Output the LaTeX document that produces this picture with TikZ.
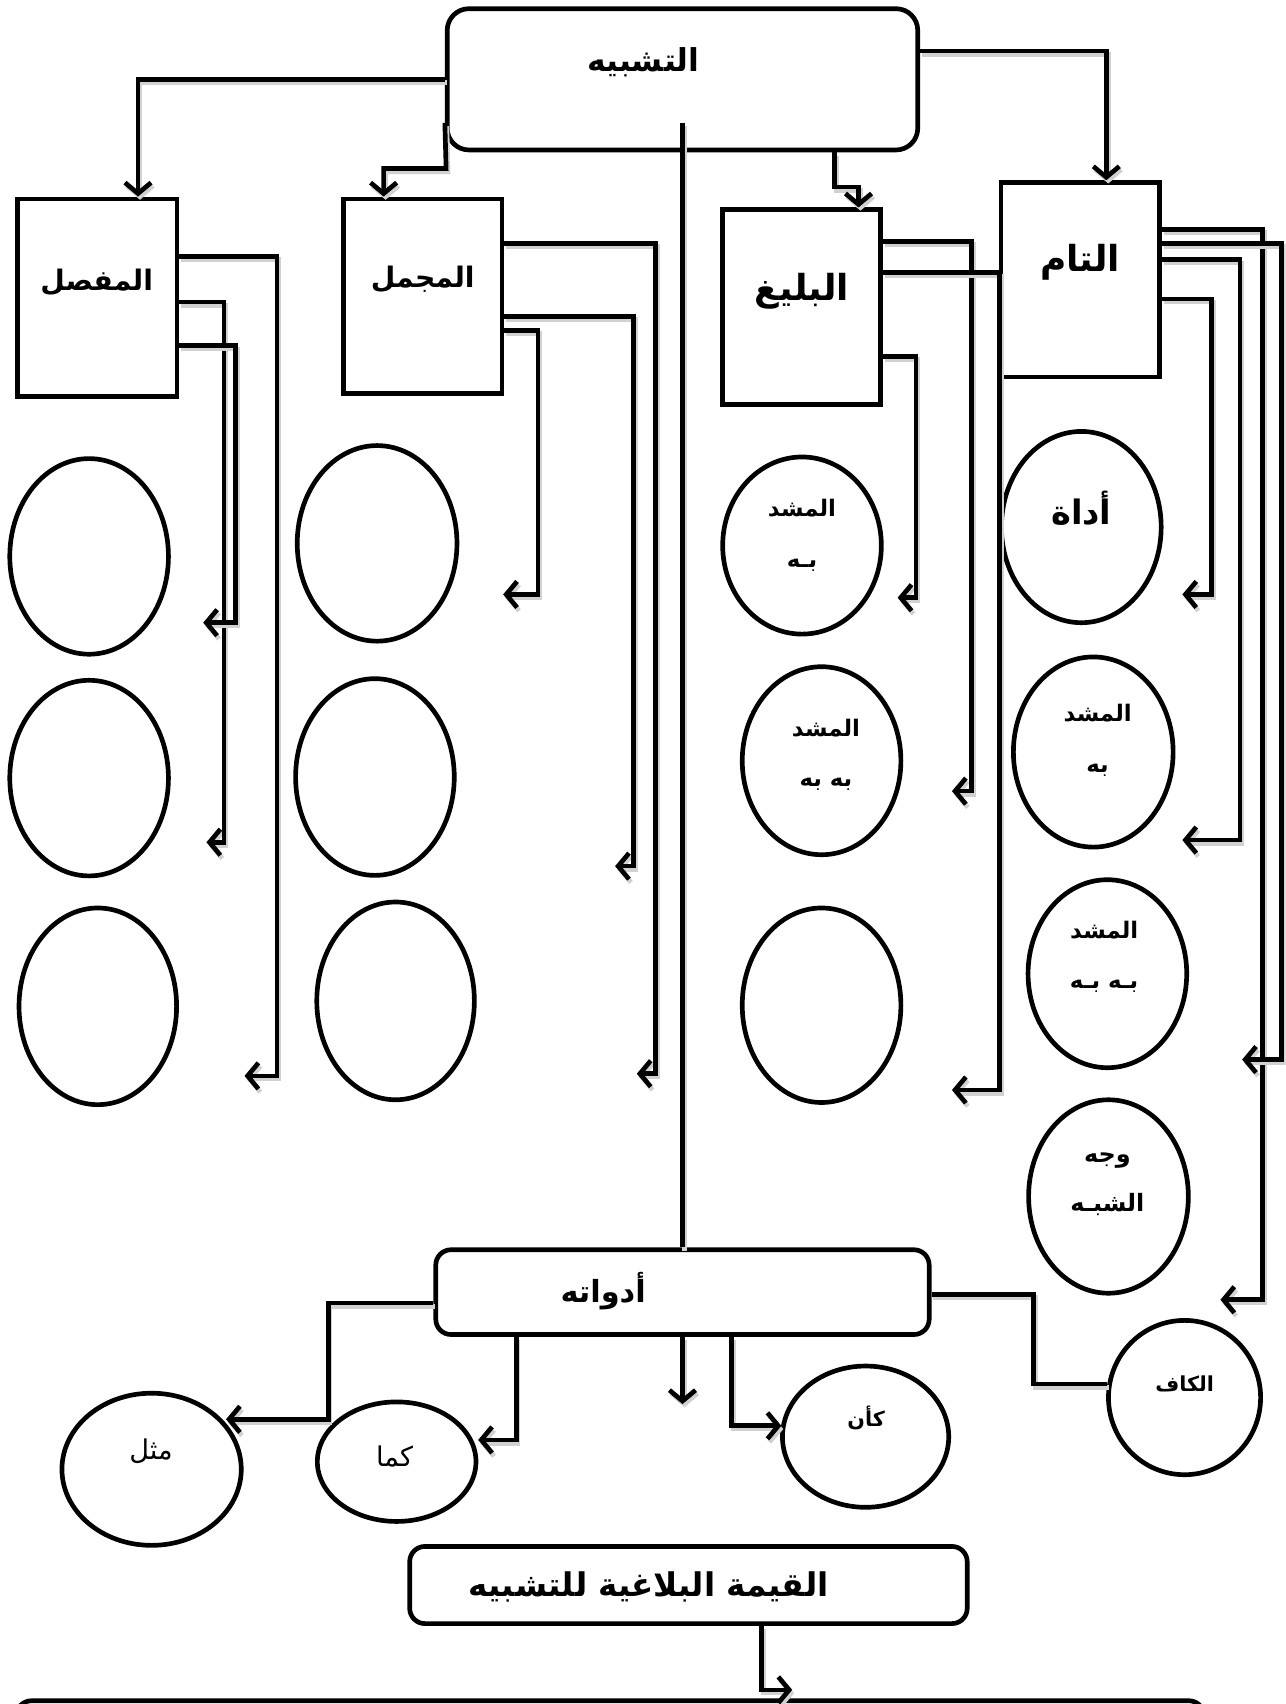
\documentclass[tikz,border=0pt]{standalone}
\usepackage{fontspec}
\usetikzlibrary{arrows.meta,shapes.geometric,calc}
\TeXXeTstate=1
\newfontfamily\arfont[Script=Arabic]{DejaVu Sans}
\begin{document}
\begin{tikzpicture}[x=1pt,y=-1pt,
  lw/.style={line width=4.3pt},
  shadowed/.style={preaction={draw=black!18,line width=4.3pt,transform canvas={shift={(1.8pt,-3pt)}}}},
  conn/.style={lw,shadowed,-{Straight Barb[length=10pt,width=24pt]}},
  link/.style={lw,shadowed},
  sbox/.style={draw,lw,inner sep=0pt},
  rbox/.style={draw,lw,inner sep=0pt,rounded corners=16pt},
  ell/.style={draw,lw,ellipse,inner sep=0pt},
  lab/.style 2 args={inner sep=0pt,align=center,font=\arfont\bfseries\fontsize{#1}{#2}\selectfont},
  labn/.style 2 args={inner sep=0pt,align=center,font=\arfont\mdseries\fontsize{#1}{#2}\selectfont}]
\useasboundingbox (0,0) rectangle (1183,1568);
\clip (0,0) rectangle (1183,1568);
\fill[white] (0,0) rectangle (1183,1568);

% ---------- main boxes
\node[rbox,rounded corners=20pt,minimum width=433pt,minimum height=130pt] (top) at (628,73) {};
\node[sbox,minimum width=147pt,minimum height=182pt] (muf) at (89.5,274) {};
\node[sbox,minimum width=146pt,minimum height=179pt] (muj) at (389,272.5) {};
\node[sbox,minimum width=145pt,minimum height=179pt] (bal) at (737.5,282.5) {};
\node[sbox,minimum width=146pt,minimum height=179pt] (tam) at (994,257.5) {};

\node[lab={29}{32}] (topT) at (592,57) {\beginR التشبيه\endR};
\node[lab={26}{30}] (mufT) at (89,260) {\beginR المفصل\endR};
\node[lab={26}{30}] (mujT) at (389,257) {\beginR المجمل\endR};
\node[lab={33}{36}] (balT) at (738,268) {\beginR البليغ\endR};
\node[lab={33}{36}] (tamT) at (994,241) {\beginR التام\endR};

% ---------- ellipses
\node[ell,minimum width=146pt,minimum height=180pt] (a1) at (82,512) {};
\node[ell,minimum width=146pt,minimum height=180pt] (a2) at (82,716) {};
\node[ell,minimum width=145pt,minimum height=181pt] (a3) at (90,926) {};
\node[ell,minimum width=147pt,minimum height=180pt] (b1) at (347,500) {};
\node[ell,minimum width=146pt,minimum height=181pt] (b2) at (345,715) {};
\node[ell,minimum width=145pt,minimum height=182pt] (b3) at (364,921) {};
\node[ell,minimum width=146pt,minimum height=163pt] (c1) at (738,502) {};
\node[ell,minimum width=146pt,minimum height=173pt] (c2) at (756,700) {};
\node[ell,minimum width=146pt,minimum height=179pt] (c3) at (756,925) {};
\node[ell,minimum width=147pt,minimum height=176pt] (d1) at (995,485) {};
\node[ell,minimum width=147pt,minimum height=175pt] (d2) at (1006,692) {};
\node[ell,minimum width=146pt,minimum height=173pt] (d3) at (1019,896) {};
\node[ell,minimum width=147pt,minimum height=178pt] (d4) at (1020,1101) {};

\node[lab={21}{47}] (c1T) at (738,493) {\beginR المشد\endR\\\beginR بـه\endR};
\node[lab={21}{46}] (c2T) at (760,695) {\beginR المشد\endR\\\beginR به به\endR};
\node[lab={31}{34}] (d1T) at (995,468) {\beginR أداة\endR};
\node[lab={21}{47}] (d2T) at (1010,681) {\beginR المشد\endR\\\beginR به\endR};
\node[lab={21}{46}] (d3T) at (1016,880) {\beginR المشد\endR\\\beginR بـه بـه\endR};
\node[lab={22}{45}] (d4T) at (1019,1090) {\beginR وجه\endR\\\beginR الشبـه\endR};

% ---------- lower part
\node[rbox,rounded corners=14pt,minimum width=454pt,minimum height=78pt] (adw) at (628,1189) {};
\node[lab={28}{32}] (adwT) at (555,1188) {\beginR أدواته\endR};
\node[ell,minimum width=165pt,minimum height=140pt] (mithl) at (139.5,1352) {};
\node[ell,minimum width=146pt,minimum height=110pt] (kama) at (365,1345) {};
\node[ell,minimum width=153pt,minimum height=130pt] (kaan) at (796.5,1322) {};
\node[ell,minimum width=140pt,minimum height=142pt] (kaf) at (1090,1286) {};
\node[labn={25}{28}] (mithlT) at (139,1335) {\beginR مثل\endR};
\node[labn={25}{28}] (kamaT) at (363,1340) {\beginR كما\endR};
\node[lab={19}{22}] (kaanT) at (797,1305) {\beginR كأن\endR};
\node[lab={19}{22}] (kafT) at (1090,1273) {\beginR الكاف\endR};

\node[rbox,rounded corners=14pt,minimum width=513pt,minimum height=71pt] (qima) at (633.5,1458.5) {};
\node[lab={30}{34}] (qimaT) at (597,1460) {\beginR القيمة البلاغية للتشبيه\endR};
\node[rbox,rounded corners=14pt,minimum width=1093pt,minimum height=80pt] (bot) at (561.5,1605) {};

% ---------- free arrow ends
\coordinate (m1) at (225,990);
\coordinate (m2) at (190,775);
\coordinate (m3) at (187,573);
\coordinate (j1) at (586,988);
\coordinate (j2) at (566,797);
\coordinate (j3) at (463,547);
\coordinate (g1) at (876,728);
\coordinate (g2) at (876,1003);
\coordinate (g3) at (826,550);
\coordinate (k1) at (1123,1196);
\coordinate (k2) at (1143,975);
\coordinate (k3) at (1088,773);
\coordinate (k4) at (1088,547);
\coordinate (w1) at (208,1306);
\coordinate (w2) at (440,1325);
\coordinate (w3) at (628,1292);
\coordinate (w4) at (719,1312);
\coordinate (q1) at (729,1555);

% ---------- connectors from the top box
\draw[conn] (top.west) -| (muf.north -| 127,0);
\draw[conn] (top.west |- 0,113) -- (410.5,155) -| (muj.north -| 353,0);
\draw[link] (top.center |- 0,113) -- (adw.north);
\draw[conn] (top.south -| 768,0) -- (768,172) -| (bal.north -| 790,0);
\draw[conn] (top.east |- 0,47) -| (tam.north -| 1018,0);

% ---------- from the four boxes
\draw[conn] (muf.east |- 0,236) -| (255,990) -- (m1);
\draw[conn] (muf.east |- 0,278) -| (206,775) -- (m2);
\draw[conn] (muf.east |- 0,318) -| (217,573) -- (m3);

\draw[conn] (muj.east |- 0,224) -| (603,988) -- (j1);
\draw[conn] (muj.east |- 0,291) -| (583,797) -- (j2);
\draw[conn] (muj.east |- 0,304) -| (495,547) -- (j3);

\draw[conn] (bal.east |- 0,222) -| (894,728) -- (g1);
\draw[conn] (bal.east |- 0,251) -| (920,1003) -- (g2);
\draw[conn] (bal.east |- 0,328) -| (843,550) -- (g3);

\draw[conn] (tam.east |- 0,211) -| (1162,1196) -- (k1);
\draw[conn] (tam.east |- 0,224) -| (1179,975) -- (k2);
\draw[conn] (tam.east |- 0,239) -| (1141,773) -- (k3);
\draw[conn] (tam.east |- 0,275) -| (1115,547) -- (k4);

% ---------- from أدواته
\draw[conn] (adw.west |- 0,1199) -| (302,1306) -- (w1);
\draw[conn] (adw.south -| 475,0) |- (w2);
\draw[conn] (adw.south) -- (w3);
\draw[conn] (adw.south -| 673,0) |- (w4);
\draw[link] (adw.east |- 0,1191) -| (951,0 |- kaf.170) -- (kaf.170);

% ---------- from القيمة البلاغية
\draw[conn] (qima.south -| 701,0) |- (q1);
\end{tikzpicture}
\end{document}
